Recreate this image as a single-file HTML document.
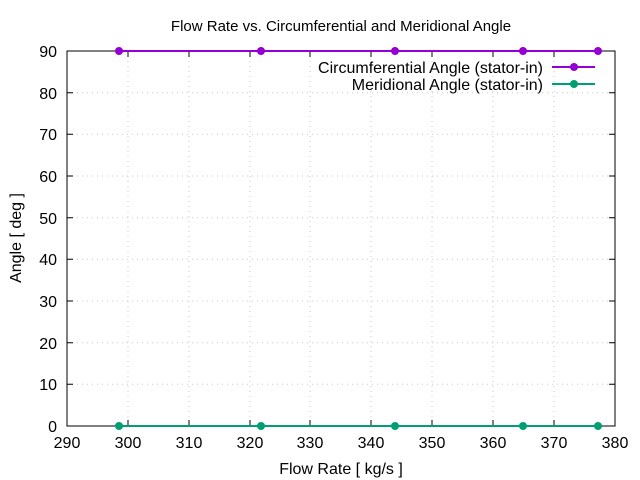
<!DOCTYPE html>
<html><head><meta charset="utf-8"><style>body{margin:0;background:#fff}svg{display:block}</style></head><body>
<svg width="640" height="480" xmlns="http://www.w3.org/2000/svg" font-family="Liberation Sans, sans-serif" font-size="16">
<rect width="640" height="480" fill="#fff"/>
<g stroke="#c8c8c8" stroke-dasharray="1,4" stroke-width="1">
<path d="M128 51V426M189 51V426M250 51V426M310 51V426M371 51V426M432 51V426M493 51V426M554 51V426"/>
<path d="M67 92.7H615M67 134.3H615M67 176H615M67 217.7H615M67 259.3H615M67 301H615M67 342.7H615M67 384.3H615"/>
</g>
<g stroke="#000" stroke-width="1">
<path d="M67 51V426H615V51Z" fill="none"/>
<path d="M128 426v-6M189 426v-6M250 426v-6M310 426v-6M371 426v-6M432 426v-6M493 426v-6M554 426v-6M128 51v6M189 51v6M250 51v6M310 51v6M371 51v6M432 51v6M493 51v6M554 51v6"/>
<path d="M67 92.7h6M67 134.3h6M67 176h6M67 217.7h6M67 259.3h6M67 301h6M67 342.7h6M67 384.3h6M615 92.7h-6M615 134.3h-6M615 176h-6M615 217.7h-6M615 259.3h-6M615 301h-6M615 342.7h-6M615 384.3h-6"/>
</g>
<g text-anchor="end">
<text x="57" y="432">0</text><text x="57" y="390">10</text><text x="57" y="349">20</text><text x="57" y="307">30</text><text x="57" y="265">40</text><text x="57" y="224">50</text><text x="57" y="182">60</text><text x="57" y="140">70</text><text x="57" y="99">80</text><text x="57" y="57">90</text>
</g>
<g text-anchor="middle">
<text x="67" y="448">290</text><text x="128" y="448">300</text><text x="189" y="448">310</text><text x="250" y="448">320</text><text x="310" y="448">330</text><text x="371" y="448">340</text><text x="432" y="448">350</text><text x="493" y="448">360</text><text x="554" y="448">370</text><text x="615" y="448">380</text>
<text x="341" y="474">Flow Rate [ kg/s ]</text>
<text x="341" y="31" font-size="15">Flow Rate vs. Circumferential and Meridional Angle</text>
<text transform="translate(21 238) rotate(-90)">Angle [ deg ]</text>
</g>
<path d="M119 51H261H395H523H598" stroke="#9400d3" stroke-width="2"/>
<g fill="#9400d3"><circle cx="119" cy="51" r="4"/><circle cx="261" cy="51" r="4"/><circle cx="395" cy="51" r="4"/><circle cx="523" cy="51" r="4"/><circle cx="598" cy="51" r="4"/></g>
<path d="M119 426H598" stroke="#009e73" stroke-width="2"/>
<g fill="#009e73"><circle cx="119" cy="426" r="4"/><circle cx="261" cy="426" r="4"/><circle cx="395" cy="426" r="4"/><circle cx="523" cy="426" r="4"/><circle cx="598" cy="426" r="4"/></g>
<g text-anchor="end"><text x="543" y="73">Circumferential Angle (stator-in)</text><text x="543" y="90">Meridional Angle (stator-in)</text></g>
<path d="M552 67H595" stroke="#9400d3" stroke-width="2"/><circle cx="574" cy="67" r="4" fill="#9400d3"/>
<path d="M552 84H595" stroke="#009e73" stroke-width="2"/><circle cx="574" cy="84" r="4" fill="#009e73"/>
</svg>
</body></html>
